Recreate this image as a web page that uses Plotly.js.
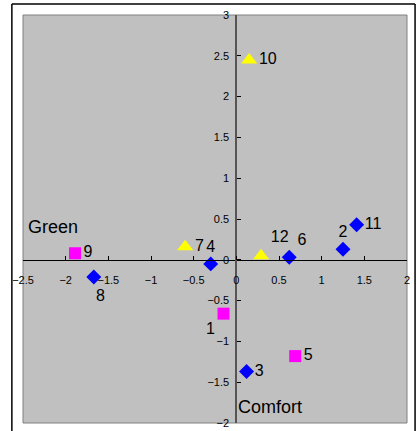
<!DOCTYPE html>
<html>
<head>
<meta charset="utf-8">
<script src="https://cdn.plot.ly/plotly-3.0.1.min.js"></script>
<style>html,body{margin:0;padding:0;background:#fff;}#chart{width:419px;height:431px;}</style>
</head>
<body>
<div id="chart"></div>
<script>
// Series A (blue diamonds)
var blueLabels = ["8", "4", "6", "2", "11", "3"];
var blueX = [-1.67, -0.30, 0.62, 1.25, 1.41, 0.12];
var blueY = [-0.21, -0.05, 0.03, 0.13, 0.43, -1.37];
// Series B (magenta squares)
var pinkLabels = ["9", "1", "5"];
var pinkX = [-1.89, -0.15, 0.69];
var pinkY = [0.08, -0.66, -1.18];
// Series C (yellow triangles)
var yellowLabels = ["10", "7", "12"];
var yellowX = [0.15, -0.60, 0.29];
var yellowY = [2.45, 0.16, 0.05];
// Axis labels
var axisNames = ["Green", "Comfort"];

var FONT = "Liberation Sans, Arial, sans-serif";

// point 8's label sits lower (below the x tick labels), drawn as an annotation
var bluePos = ["bottom right", "top center", "top right", "top center", "middle right", "middle right"];
var pinkPos = ["middle right", "bottom left", "middle right"];
var yellowPos = ["middle right", "middle right", "top right"];

var textFont = {family: FONT, size: 16, color: "#000"};

var blueText = blueLabels.map(function (l, i) { return i === 0 ? "" : l; });

var traces = [
  {x: blueX, y: blueY, text: blueText, mode: "markers+text", type: "scatter",
   textposition: bluePos, textfont: textFont, cliponaxis: false,
   marker: {symbol: "diamond", size: 11.5, color: "#0000FF"}},
  {x: pinkX, y: pinkY, text: pinkLabels, mode: "markers+text", type: "scatter",
   textposition: pinkPos, textfont: textFont, cliponaxis: false,
   marker: {symbol: "square", size: 12, color: "#FF00FF"}},
  {x: yellowX, y: yellowY, text: yellowLabels, mode: "markers+text", type: "scatter",
   textposition: yellowPos, textfont: textFont, cliponaxis: false,
   marker: {symbol: "triangle-up", size: 14, color: "#FFFF00"}}
];

var layout = {
  width: 419, height: 431,
  margin: {l: 23, r: 12, t: 15, b: 8, pad: 0},
  paper_bgcolor: "#FFFFFF",
  plot_bgcolor: "#C0C0C0",
  showlegend: false,
  font: {family: FONT, size: 11, color: "#000"},
  xaxis: {
    range: [-2.5, 2], dtick: 0.5, tick0: 0, showgrid: false, zeroline: false,
    anchor: "free", position: 0.4, showline: true, linecolor: "#000000", linewidth: 1,
    ticks: "inside", ticklen: 4, tickcolor: "#000", tickwidth: 1,
    ticklabelstandoff: 10,
    tickfont: {family: FONT, size: 11, color: "#000"}, fixedrange: true
  },
  yaxis: {
    range: [-2, 3], dtick: 0.5, tick0: 0, showgrid: false, zeroline: false,
    anchor: "free", position: 0.5556, showline: true, linecolor: "#555555", linewidth: 2,
    ticks: "inside", ticklen: 4, tickcolor: "#000", tickwidth: 1,
    ticklabelstandoff: 4,
    tickfont: {family: FONT, size: 11, color: "#000"}, fixedrange: true
  },
  shapes: [
    {type: "rect", xref: "paper", yref: "paper", x0: 0, x1: 1, y0: 0, y1: 1,
     line: {color: "#808080", width: 1}, layer: "below"},
    {type: "line", xref: "paper", yref: "paper", x0: -0.029, x1: -0.029, y0: -0.1, y1: 1.027,
     line: {color: "#000", width: 1.5}},
    {type: "line", xref: "paper", yref: "paper", x0: -0.029, x1: 1.021, y0: 1.027, y1: 1.027,
     line: {color: "#000", width: 1.5}},
    {type: "line", xref: "paper", yref: "paper", x0: 1.021, x1: 1.021, y0: -0.1, y1: 1.027,
     line: {color: "#000", width: 1.5}}
  ],
  annotations: [
    {x: -2.15, y: 0.40, xref: "x", yref: "y", text: axisNames[0], showarrow: false,
     xanchor: "center", yanchor: "middle", font: {family: FONT, size: 18, color: "#000"}},
    {x: 0.40, y: -1.80, xref: "x", yref: "y", text: axisNames[1], showarrow: false,
     xanchor: "center", yanchor: "middle", font: {family: FONT, size: 18, color: "#000"}},
    {x: blueX[0], y: blueY[0], xref: "x", yref: "y", text: blueLabels[0], showarrow: false,
     xanchor: "center", yanchor: "middle", xshift: 7, yshift: -19,
     font: {family: FONT, size: 16, color: "#000"}}
  ]
};

Plotly.newPlot("chart", traces, layout, {displayModeBar: false, staticPlot: true});
</script>
</body>
</html>
